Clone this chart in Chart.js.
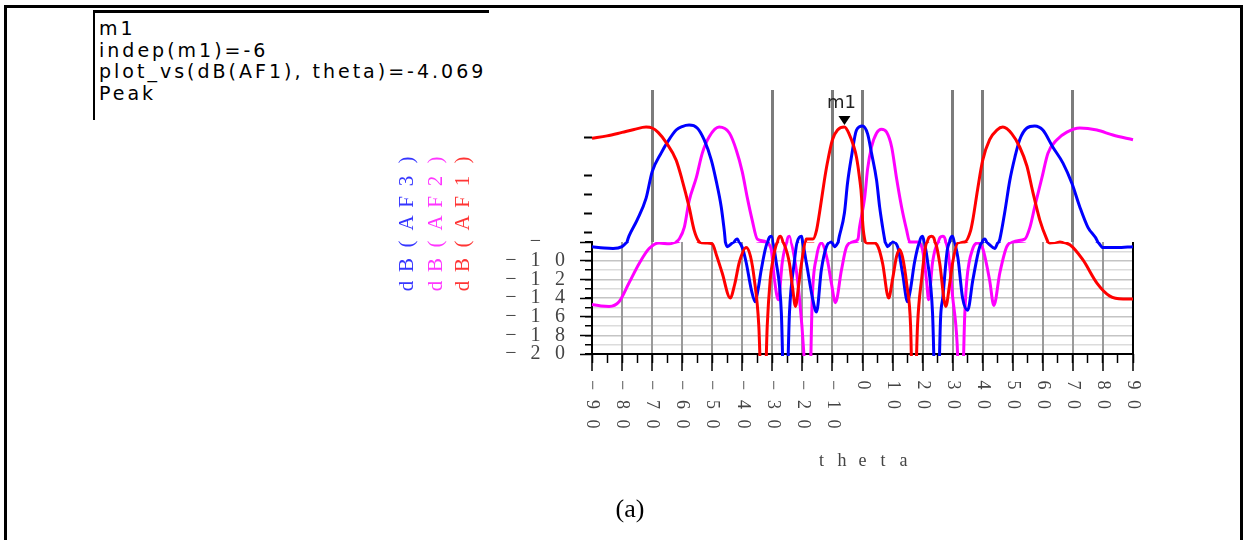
<!DOCTYPE html>
<html>
<head>
<meta charset="utf-8">
<script src="https://cdn.jsdelivr.net/npm/chart.js@4.4.1/dist/chart.umd.min.js"></script>
<style>
  html, body { margin: 0; padding: 0; background: #fff; }
  #page { position: relative; width: 1246px; height: 540px; overflow: hidden; background: #fff; }
  #frame { position: absolute; left: 4px; top: 5px; width: 1239px; height: 600px; border: 3px solid #000; box-sizing: border-box; }
  #info { position: absolute; left: 93px; top: 10px; width: 396px; height: 110px;
          border-left: 2px solid #000; border-top: 3px solid #000; box-sizing: border-box;
          padding: 5px 0 0 4px; font-family: "DejaVu Sans", sans-serif; font-size: 19px;
          letter-spacing: 3px; line-height: 21.5px; color: #000; white-space: nowrap; }
  #caption { position: absolute; left: 600px; top: 494px; width: 60px; text-align: center;
             font-family: "Liberation Serif", serif; font-size: 26px; color: #000; }
  canvas { position: absolute; left: 0; top: 0; }
</style>
</head>
<body>
<div id="page">
  <div id="frame"></div>
  <div id="info">m1<br>indep(m1)=-6<br>plot_vs(dB(AF1), theta)=-4.069<br>Peak</div>
  <canvas id="upper" width="1246" height="540"></canvas>
  <canvas id="lower" width="1246" height="540"></canvas>
  <div id="caption">(a)</div>
</div>
<script>
// Array factor of the three beams, dB versus theta (degrees)
const redTheta = [-90,-85,-80,-76,-72,-70,-68,-65.3,-62,-60,-57.7,-56,-54.3,-52,-50,-48.5,-46.7,-44,-42.5,-41,-38.7,-37.3,-36,-34.5,-33,-31.7,-30.7,-30,-28.7,-27.3,-26,-24.3,-23.3,-22.3,-21.3,-20.3,-18.7,-16.5,-15.3,-14.3,-12.7,-11.7,-10,-8.3,-6,-4.3,-3,-2,-1,-0.3,0,0.7,1.5,4,5.3,6.7,8.7,10,11.3,12.3,13.3,14.7,16,17,18.3,19.7,21.3,23,24.5,25.7,27.7,29,30,31.7,34,36,36.7,38.3,40,42.3,44.7,46.7,49.7,52.3,54.7,56.7,59,61.3,62.3,65.7,69,73.3,78,82.3,86.7,90];
const redDb = [-4.45,-4.37,-4.25,-4.15,-4.07,-4.1,-4.25,-4.6,-5.2,-5.88,-6.8,-7.6,-8.0,-8.1,-8.2,-9.5,-11.3,-14.0,-12.5,-10.2,-8.6,-9.5,-12,-17,-30,-17,-12,-10.3,-8.3,-7.8,-8.3,-10.3,-12.8,-14.9,-12.8,-10.3,-7.9,-7.9,-7.6,-7.0,-5.9,-5.3,-4.5,-4.17,-4.069,-4.34,-4.7,-5.1,-5.8,-6.5,-7.25,-7.9,-8.1,-8.1,-8.6,-10.3,-14.0,-12.0,-9.6,-8.8,-9.6,-12.5,-17,-30,-17,-11.9,-8.1,-7.8,-8.3,-10.3,-14.9,-12.5,-10.2,-8.1,-8.0,-7.6,-7.25,-6.2,-5.2,-4.5,-4.17,-4.07,-4.3,-4.75,-5.4,-6.3,-7.25,-7.9,-8.1,-8.0,-8.3,-9.9,-12.4,-13.8,-14.1,-14.1];

const blueTheta = [-90,-86,-83,-80,-77.7,-75,-72,-70,-67,-65,-62,-60,-57.7,-55,-52.7,-50.3,-48.7,-47,-46,-45,-43.3,-41.7,-40,-38.7,-37,-35.7,-34.7,-33.7,-31.7,-30.3,-28.7,-27,-25.7,-24.3,-22.7,-21.7,-20.3,-18.7,-16.7,-15.3,-13.7,-12,-10.3,-9.3,-7.7,-6,-5,-3.7,-2,0,1.7,3,4.7,5.7,6.7,8,8.3,10,11.7,13.3,15,16,17.3,19,20,21.7,23.3,24.7,26,26.7,28.3,30,31.7,33.3,35,36.7,39,40.7,42.3,44,45,45.7,47.3,49,50.7,52.3,54.7,57.3,60,63.3,66.7,69.7,72.3,75,78.3,80,84.7,90];
const blueDb = [-8.5,-8.65,-8.7,-8.5,-7.8,-7.25,-6.5,-5.6,-4.96,-4.6,-4.17,-4.05,-4.0,-4.1,-4.5,-5.2,-5.9,-6.8,-7.6,-8.5,-8.1,-7.9,-8.6,-10.2,-13.1,-14.4,-13,-11,-8.1,-7.8,-10.2,-15.6,-30,-15.6,-10.2,-8.0,-7.8,-10.2,-13.9,-15.5,-11,-8.5,-8.0,-8.5,-7.8,-7.0,-6.0,-5.1,-4.17,-4.03,-4.3,-4.96,-5.9,-6.8,-7.5,-8.3,-8.5,-8.0,-8.5,-11.3,-14.4,-13,-10.2,-8.0,-7.8,-10.2,-15.6,-30,-16,-14,-8.7,-7.8,-9.6,-14,-15.3,-12.1,-8.5,-7.9,-8.3,-8.7,-8.1,-7.9,-7.0,-5.9,-5.1,-4.5,-4.1,-4.03,-4.17,-4.75,-5.3,-6.0,-6.8,-7.5,-8.0,-8.6,-8.6,-8.5];

const magentaTheta = [-90,-87,-84.3,-81,-77.7,-74.3,-71,-67.7,-64.3,-62,-61,-59.3,-57.7,-55.3,-53.3,-51,-47.7,-44.3,-42,-40,-38.3,-36.7,-35,-32,-31,-30.3,-29.3,-28,-26.7,-25.3,-24.3,-22.7,-21,-19.5,-18,-16.7,-15.3,-13.7,-11.7,-10.3,-9,-7,-5.3,-3.3,-1.5,-1,0.7,1.7,3,4.7,6.3,8,9.7,11.3,13,14.7,15.7,18.5,20,21.3,22,23.3,25,26.7,28.3,30,31.5,32.7,34,34.7,36.7,38.3,40,42.3,43.7,45.7,48,50,54,55.7,57.3,59.7,61.7,64.7,68,72.3,78,83.3,90];
const magentaDb = [-14.7,-14.85,-14.9,-14.4,-12.4,-10.3,-8.7,-8.1,-8.2,-8.0,-7.9,-7.5,-6.6,-5.8,-4.96,-4.4,-4.07,-4.27,-4.85,-5.6,-6.5,-7.25,-7.9,-8.0,-8.3,-8.9,-12,-14.2,-10.2,-8.1,-7.8,-9.6,-13.9,-20,-30,-13.9,-9.6,-8.1,-9.9,-12.5,-14.5,-11,-8.5,-8.0,-7.9,-7.5,-6.5,-5.5,-4.75,-4.27,-4.14,-4.24,-4.75,-5.8,-6.8,-7.6,-8.0,-8.0,-8.9,-12.1,-14.2,-10.2,-8.1,-7.8,-8.7,-13.9,-19,-30,-16,-12.1,-8.7,-8.1,-8.7,-12.1,-14.8,-11.3,-8.5,-8.0,-7.9,-7.5,-6.8,-5.8,-4.96,-4.5,-4.24,-4.1,-4.17,-4.34,-4.5];

// Axis ticks and labels
const xTickValues = [-90,-80,-70,-60,-50,-40,-30,-20,-10,0,10,20,30,40,50,60,70,80,90];
const xTickLabels = ['−90','−80','−70','−60','−50','−40','−30','−20','−10','0','10','20','30','40','50','60','70','80','90'];
const yTickValues = [-8,-10,-12,-14,-16,-18,-20];
const yTickLabels = ['− ','−10','−12','−14','−16','−18','−20'];
const upperTickValues = [-4.44,-5.71,-6.36,-7.01,-7.66];
const upperGridTheta = [-70,-30,-10,0,30,40,70];
const traceNames = ['dB(AF3)','dB(AF2)','dB(AF1)'];
const traceTitleColors = ['#3535ff','#ff35ff','#ff3535'];

// Marker m1
const markerName = 'm1';
const markerTheta = -6;
const markerValue = -4.069;

// Plot geometry (page pixels)
const W = 1246, H = 540;
const PLOT_LEFT = 592, PLOT_RIGHT = 1133;
const UPPER_TOP = 90, SPLIT = 242, LOWER_BOTTOM = 354;

const series = [
  { theta: redTheta, db: redDb, color: '#ff0000' },
  { theta: blueTheta, db: blueDb, color: '#0000ff' },
  { theta: magentaTheta, db: magentaDb, color: '#ff00ff' }
];

function toPoints(s) { return s.theta.map((t, i) => ({ x: t, y: s.db[i] })); }

// draw characters one by one at a fixed pitch
function spacedText(ctx, text, x, y, pitch, align) {
  const n = text.length;
  let start = x;
  if (align === 'right') start = x - (n - 1) * pitch;
  else if (align === 'center') start = x - (n - 1) * pitch / 2;
  for (let i = 0; i < n; i++) ctx.fillText(text[i], start + i * pitch, y);
}

const markerPlugin = {
  id: 'markerPlugin',
  afterDatasetsDraw(chart) {
    const { ctx } = chart;
    const px = chart.scales.x.getPixelForValue(markerTheta);
    const py = chart.scales.y.getPixelForValue(markerValue);
    ctx.save();
    ctx.fillStyle = '#000';
    ctx.beginPath();
    ctx.moveTo(px - 6, py - 11);
    ctx.lineTo(px + 6, py - 11);
    ctx.lineTo(px, py - 2);
    ctx.closePath();
    ctx.fill();
    ctx.font = '18px "DejaVu Sans"';
    ctx.textAlign = 'center';
    ctx.textBaseline = 'middle';
    ctx.fillStyle = '#222';
    ctx.fillText(markerName, px - 3, py - 24);
    ctx.restore();
  }
};

const axisTextPlugin = {
  id: 'axisText',
  afterDraw(chart) {
    const { ctx } = chart;
    const xs = chart.scales.x, ys = chart.scales.y;
    ctx.save();
    ctx.textAlign = 'center';
    ctx.textBaseline = 'middle';
    // x tick labels, turned clockwise
    ctx.fillStyle = '#444';
    ctx.font = '18px "Liberation Serif"';
    xTickValues.forEach((v, i) => {
      ctx.save();
      ctx.translate(xs.getPixelForValue(v), LOWER_BOTTOM + 31);
      ctx.rotate(Math.PI / 2);
      spacedText(ctx, xTickLabels[i], 0, 0, 19.5, 'left');
      ctx.restore();
    });
    // y tick labels
    ctx.font = '20px "Liberation Serif"';
    yTickValues.forEach((v, i) => {
      spacedText(ctx, yTickLabels[i], 560, ys.getPixelForValue(v), 24.5, 'right');
    });
    // x title
    ctx.font = '18px "Liberation Serif"';
    spacedText(ctx, 'theta', (PLOT_LEFT + PLOT_RIGHT) / 2, 461, 20.5, 'center');
    // y titles, one per trace
    ctx.font = '21px "Liberation Serif"';
    const titleX = [407, 436, 463];
    traceNames.forEach((name, i) => {
      ctx.save();
      ctx.fillStyle = traceTitleColors[i];
      ctx.translate(titleX[i], 286);
      ctx.rotate(-Math.PI / 2);
      spacedText(ctx, name, 0, 0, 21, 'left');
      ctx.restore();
    });
    ctx.restore();
  }
};

// Upper band: -8 dB up to the peaks
new Chart(document.getElementById('upper'), {
  type: 'line',
  data: {
    datasets: series.map(s => ({
      data: toPoints(s), borderColor: s.color, borderWidth: 3, pointRadius: 0,
      cubicInterpolationMode: 'monotone', clip: { left: 1, right: 1, top: 1, bottom: 0 }
    }))
  },
  options: {
    responsive: false, animation: false, devicePixelRatio: 1,
    layout: { padding: { left: 0, top: UPPER_TOP, right: W - PLOT_RIGHT, bottom: 0 } },
    plugins: { legend: { display: false }, tooltip: { enabled: false } },
    scales: {
      x: {
        type: 'linear', min: -90, max: 90,
        afterFit(s) { s.height = H - SPLIT; },
        afterBuildTicks(s) { s.ticks = upperGridTheta.map(v => ({ value: v })); },
        ticks: { display: false },
        grid: { color: '#7c7c7c', lineWidth: 3, drawTicks: false },
        border: { display: false }
      },
      y: {
        type: 'linear', min: -8, max: -2.8,
        afterFit(s) { s.width = PLOT_LEFT; },
        afterBuildTicks(s) { s.ticks = upperTickValues.map(v => ({ value: v })); },
        ticks: { display: false },
        grid: { drawOnChartArea: false, tickLength: 8, tickColor: '#000', tickWidth: 2 },
        border: { display: false }
      }
    }
  },
  plugins: [markerPlugin]
});

// Lower band: -20 dB to -8 dB with full grid
new Chart(document.getElementById('lower'), {
  type: 'line',
  data: {
    datasets: series.map(s => ({
      data: toPoints(s), borderColor: s.color, borderWidth: 3, pointRadius: 0,
      cubicInterpolationMode: 'monotone', xAxisID: 'x', yAxisID: 'y',
      clip: { left: 1, right: 1, top: 0, bottom: 2 }
    }))
  },
  options: {
    responsive: false, animation: false, devicePixelRatio: 1,
    layout: { padding: { left: 0, top: SPLIT, right: W - PLOT_RIGHT, bottom: 0 } },
    plugins: { legend: { display: false }, tooltip: { enabled: false } },
    scales: {
      yMinor: {
        type: 'linear', position: 'left', min: -20, max: -8,
        afterFit(s) { s.width = 0; },
        ticks: { display: false, stepSize: 1 },
        grid: {
          color: c => (c.tick.value === -8 || c.tick.value === -20) ? 'rgba(0,0,0,0)' : (c.tick.value % 2 === 0 ? '#c4c4c4' : '#dcdcdc'),
          lineWidth: 1.5, tickLength: 7, tickColor: '#000', tickWidth: 1.5
        },
        border: { display: false }
      },
      y: {
        type: 'linear', position: 'left', min: -20, max: -8,
        afterFit(s) { s.width = PLOT_LEFT; },
        afterBuildTicks(s) { s.ticks = yTickValues.map(v => ({ value: v })); },
        ticks: { display: false },
        grid: { drawOnChartArea: false, tickLength: 12, tickColor: '#000', tickWidth: 1.5 },
        border: { display: true, color: '#000', width: 2 }
      },
      xMinor: {
        type: 'linear', position: 'bottom', min: -90, max: 90,
        afterFit(s) { s.height = 0; },
        ticks: { display: false, stepSize: 5 },
        grid: { drawOnChartArea: false, tickLength: 9, tickColor: '#000', tickWidth: 1.5 },
        border: { display: false }
      },
      x: {
        type: 'linear', position: 'bottom', min: -90, max: 90,
        afterFit(s) { s.height = H - LOWER_BOTTOM; },
        afterBuildTicks(s) { s.ticks = xTickValues.map(v => ({ value: v })); },
        ticks: { display: false },
        grid: {
          color: c => Math.abs(c.tick.value) === 90 ? '#000' : '#9a9a9a',
          lineWidth: 2, tickLength: 17, tickColor: '#000', tickWidth: 1.5
        },
        border: { display: true, color: '#000', width: 2 }
      }
    }
  },
  plugins: [axisTextPlugin]
});
</script>
</body>
</html>
